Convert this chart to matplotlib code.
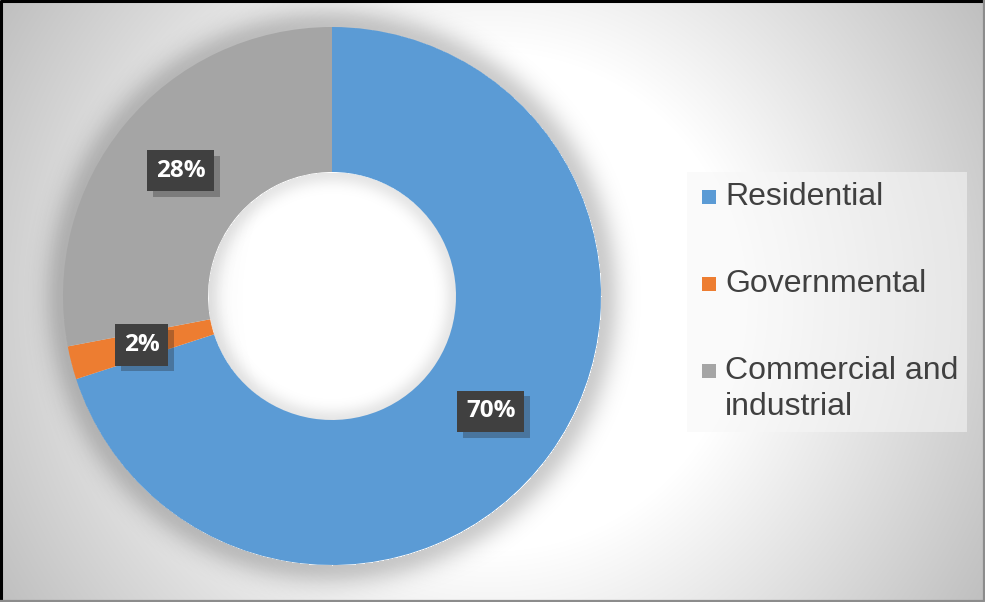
import numpy as np
import matplotlib.pyplot as plt
import matplotlib.patheffects as pe
from matplotlib.patches import Rectangle

# data
categories = ["Residential", "Governmental", "Commercial and\nindustrial"]
shares = [70, 2, 28]
colors = ["#5B9BD5", "#ED7D31", "#A5A5A5"]

W, H = 985, 602
cx, cy = 332, 296          # donut centre (pixels from top-left)
r_out, r_in = 269, 124

fig = plt.figure(figsize=(W / 100, H / 100), dpi=100)
ax = fig.add_axes([0, 0, 1, 1])

# radial gradient background
yy, xx = np.mgrid[0:H, 0:W]
d = np.hypot(xx - 492, yy - 301)
v = np.clip(1 - (d - 250) / (575 - 250) * (1 - 0.75), 0.75, 1.0)
bg = np.dstack([v, v, v])
ax.imshow(bg, extent=(0, W, 0, H), origin="upper", zorder=0, interpolation="bilinear")

# soft shadow around the ring
rr = np.hypot(xx - cx, yy - cy)
shade = np.zeros_like(rr)
out = rr > r_out
shade[out] = 0.20 * np.exp(-((rr[out] - r_out) / 20.0) ** 2)
inn = rr < r_in
shade[inn] = 0.10 * np.exp(-((r_in - rr[inn]) / 12.0) ** 2)
sh = np.zeros((H, W, 4))
sh[..., 3] = shade
ax.imshow(sh, extent=(0, W, 0, H), origin="upper", zorder=1, interpolation="bilinear")

# donut
wedges, texts, autotexts = ax.pie(
    shares, colors=colors, startangle=90, counterclock=False,
    center=(cx, H - cy), radius=r_out,
    wedgeprops=dict(width=r_out - r_in, linewidth=0),
    autopct=lambda p: f"{p:.0f}%", pctdistance=(r_out + r_in) / 2 / r_out,
)
for w in wedges:
    w.set_zorder(2)

# data labels in dark boxes with a shadow
for t in autotexts:
    t.set(color="white", fontsize=17.5, fontweight="bold", family="Open Sans", zorder=4)
    t.set_bbox(dict(boxstyle="square,pad=0.36", facecolor="#404040",
                    edgecolor="none", linewidth=0))
    t.get_bbox_patch().set_path_effects([
        pe.SimplePatchShadow(offset=(4, -4), shadow_rgbFace="#202020", alpha=0.3),
        pe.Normal()])

ax.set_xlim(0, W)
ax.set_ylim(0, H)
ax.set_axis_off()

# legend box
ax.add_patch(Rectangle((687, H - 432), 280, 260, facecolor="#f7f7f7",
                       edgecolor="none", alpha=0.55, zorder=2))
rows = [197, 284, 371]
for lab, col, ry in zip(categories, colors, rows):
    ax.add_patch(Rectangle((702, H - ry - 7), 14, 14, facecolor=col,
                           edgecolor="none", zorder=3))
    for k, line in enumerate(lab.split("\n")):
        ax.text(725, H - ry - 36 * k, line, ha="left", va="center",
                fontsize=23, family="Liberation Sans", color="#404040", zorder=3)

# frame
ax.plot([0.5, 0.5, W], [0, H - 1, H - 1], color="black", lw=2.2, clip_on=False, zorder=5)
ax.plot([0, W - 1, W - 1], [1, 1, H], color="#8c8c8c", lw=1.6, clip_on=False, zorder=5)

fig.savefig("out.png", dpi=100)
